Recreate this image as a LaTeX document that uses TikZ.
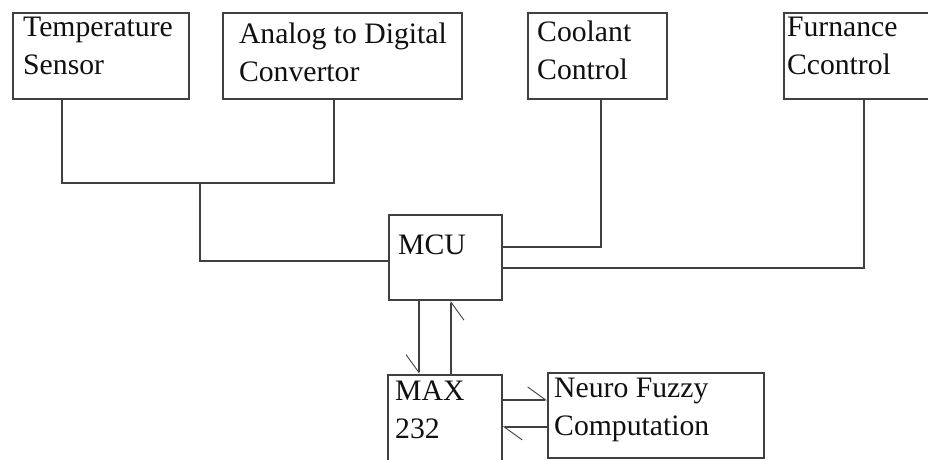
\documentclass[tikz,border=0pt]{standalone}
\usepackage{fontspec}
\setmainfont{Liberation Serif}
\usetikzlibrary{arrows.meta, positioning}
\definecolor{wirecol}{HTML}{404040}
\definecolor{inkcol}{HTML}{101010}
\tikzset{
  blk/.style={rectangle, draw=wirecol, line width=1.8pt, fill=white,
              anchor=north west, inner sep=0pt, minimum height=86pt},
  txt/.style={anchor=base west, inner sep=0pt, align=left, text=inkcol,
              font=\fontsize{29.7}{38}\selectfont},
  wire/.style={draw=wirecol, line width=1.8pt},
  sig/.style={draw=wirecol, line width=1.8pt,
              -{Straight Barb[#1, length=18pt, width=26pt, line width=0.9pt]}},
}

\begin{document}
\begin{tikzpicture}[x=1pt, y=-1pt]
    \useasboundingbox (0,0) rectangle (928,459);
    \clip (0,0) rectangle (928,459);
    % top row
    \node[blk, minimum width=176pt] (ts) at (12,12) {};
    \node[blk, minimum width=239pt, right=32pt of ts] (adc) {};
    \node[blk, minimum width=139pt] (cool) at (527,12) {};
    \node[blk, minimum width=200pt, right=115pt of cool] (furn) {};
    % middle and bottom
    \node[blk, minimum width=113pt, minimum height=85pt] (mcu) at (388,214) {};
    \node[blk, minimum width=114pt, minimum height=120pt] (max) at (387,374) {};
    \node[blk, minimum width=216pt, minimum height=85pt] (nfc) at (547,372) {};
    % texts (base = last line)
    \node[txt] (tstxt) at ([shift={(11,62)}]ts.north west) {Temperature\\Sensor};
    \node[txt] (adctxt) at ([shift={(17,69)}]adc.north west) {Analog to Digital\\Convertor};
    \node[txt] (cooltxt) at ([shift={(10,67)}]cool.north west) {Coolant\\Control};
    \node[txt] (furntxt) at ([shift={(4,62)}]furn.north west) {Furnance\\Ccontrol};
    \node[txt] (mcutxt) at ([shift={(10,40)}]mcu.north west) {MCU};
    \node[txt] (maxtxt) at ([shift={(8,64)}]max.north west) {MAX\\232};
    \node[txt] (nfctxt) at ([shift={(7,63)}]nfc.north west) {Neuro Fuzzy\\Computation};
    % wiring
    \coordinate (j1) at (200,183);
    \draw[wire] ([xshift=50pt]ts.south west) |- (j1) -| ([xshift=112pt]adc.south west);
    \draw[wire] (j1) |- ([yshift=-3.5pt]mcu.west);
    \draw[wire] ([xshift=74pt]cool.south west) |- ([yshift=10.5pt]mcu.east);
    \draw[wire] ([xshift=81pt]furn.south west) |- ([yshift=-10.5pt]mcu.east);
    \draw[sig=right] ([xshift=31pt]mcu.south west) -- ([xshift=32pt]max.north west);
    \draw[sig=right] ([xshift=64pt]max.north west) -- ([xshift=63pt]mcu.south west);
    \draw[sig=left] ([yshift=35pt]max.east) -- ([yshift=15.5pt]nfc.west);
    \draw[sig=left] ([yshift=-11.5pt]nfc.west) -- ([yshift=8pt]max.east);
\end{tikzpicture}
\end{document}
